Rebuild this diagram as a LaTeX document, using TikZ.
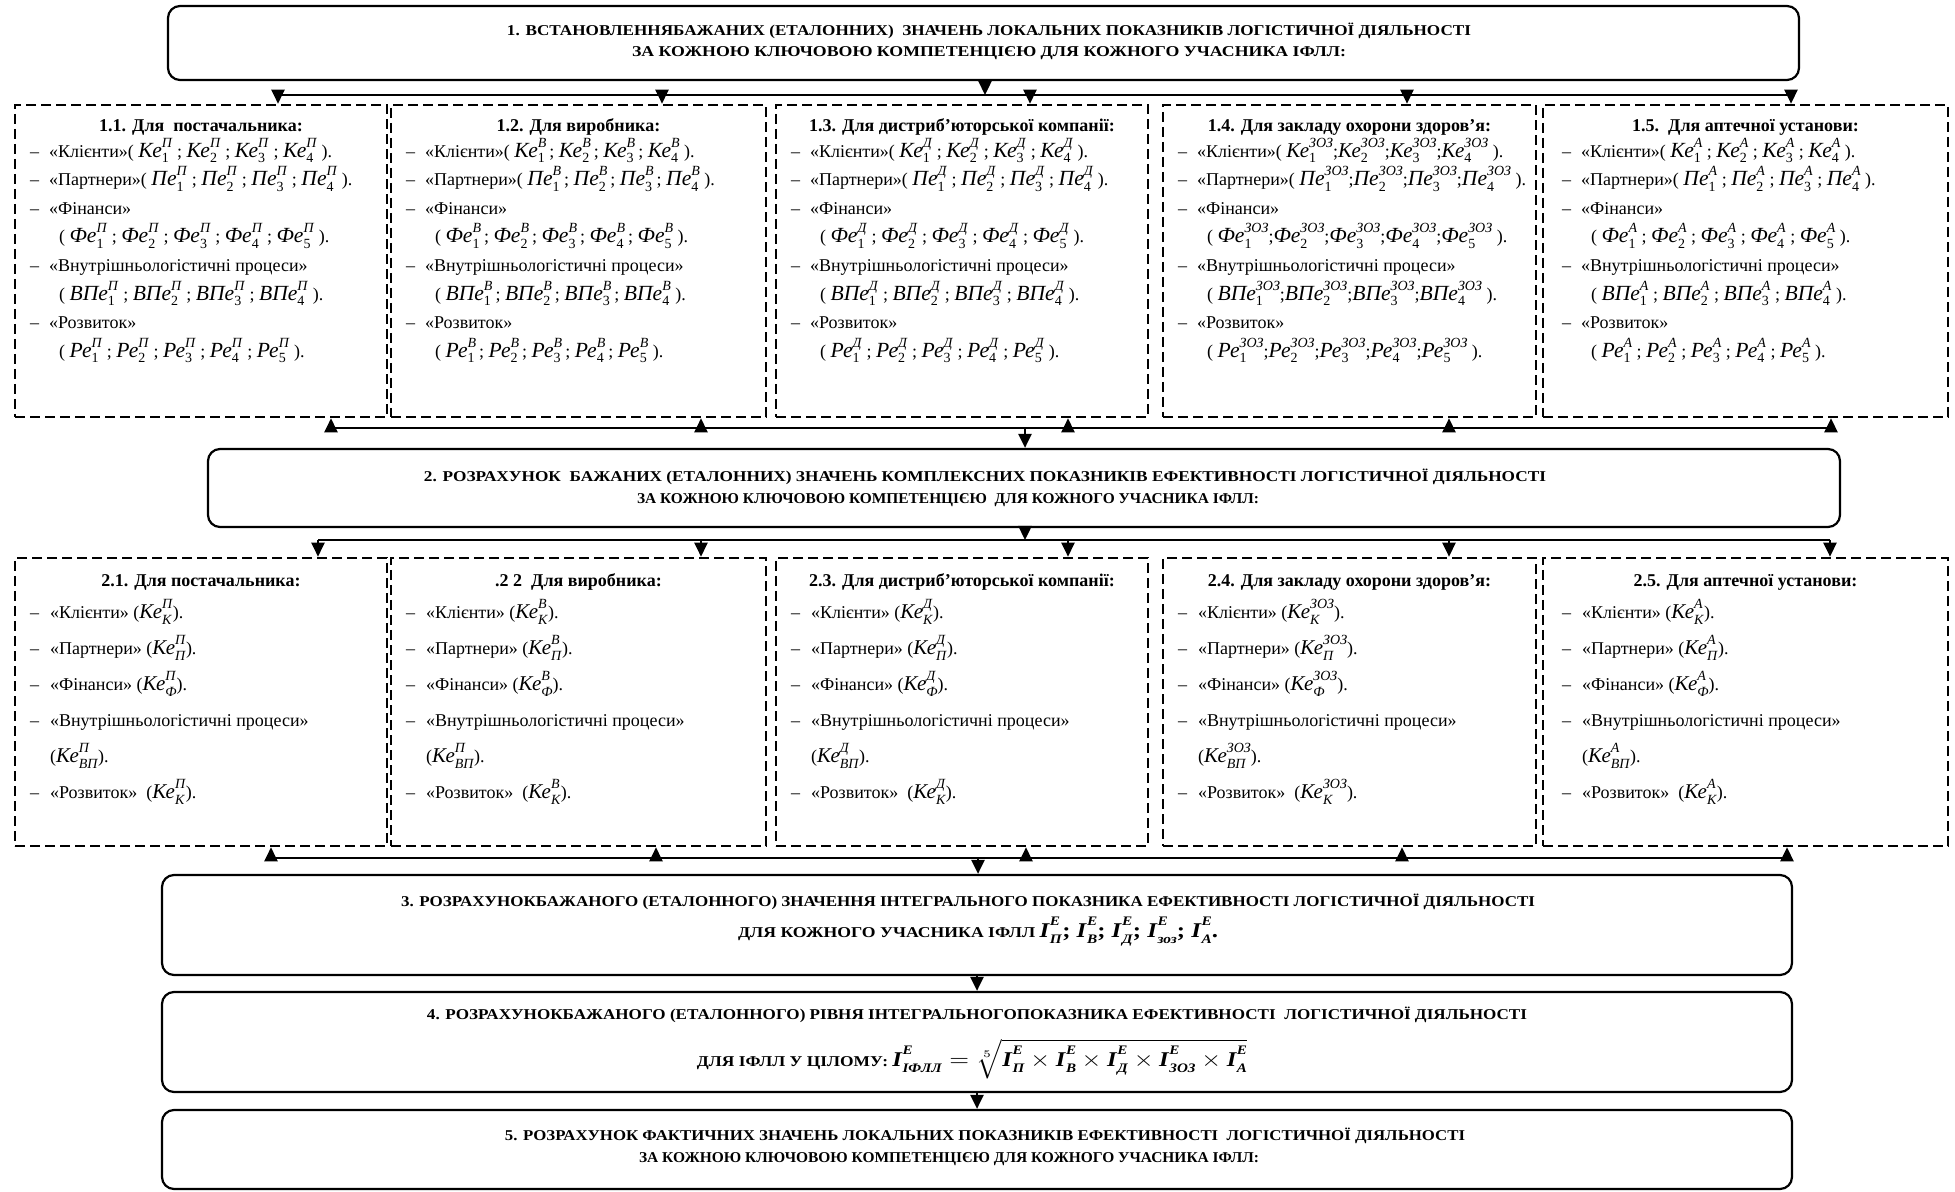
\documentclass[tikz,border=0pt]{standalone}
\usepackage{amsmath}
\usepackage{graphicx}
\usepackage{fontspec}
\setmainfont{Liberation Serif}
\usetikzlibrary{arrows.meta,fit}

\newdimen\scrw
\newbox\scrbA
\newbox\scrbB
% text-mode stacked scripts: #1 sup, #2 sub, #3 size, #4 raise, #5 lower
\newcommand\scr[5]{\setbox\scrbA\hbox{\fontsize{#3}{#3}\selectfont #1}\setbox\scrbB\hbox{\fontsize{#3}{#3}\selectfont #2}%
 \ifdim\wd\scrbA>\wd\scrbB \scrw=\wd\scrbA \else \scrw=\wd\scrbB \fi
 \rlap{\raisebox{#4}{\box\scrbA}}\rlap{\raisebox{-#5}{\box\scrbB}}\hspace*{\scrw}}
\def\ixs{10.8}
\newcommand\ix[3]{{\fontsize{\ixs}{12}\selectfont\textit{#1}\scr{\textit{#3}}{#2}{7}{5pt}{2.8pt}}}
\newcommand\jx[2]{{\fontsize{10.5}{12}\selectfont\textit{Ке}\scr{\textit{#2}}{\textit{#1}}{7}{5pt}{3pt}}}
\newcommand\Ib[1]{\textbf{\textit{I}}\scr{\textit{E}}{\textit{#1}}{6.5}{5.8pt}{3.4pt}}
\newcommand\dsh{\makebox[9.5pt][l]{–}}
\newcommand\ind{\hspace*{14.5pt}}
\newcommand\dshB{\makebox[10pt][l]{–}}
\newcommand\indB{\hspace*{10pt}}
\newcommand\hl[2]{\resizebox{#1}{\height}{#2}}

\newcommand\rowAbody[2]{\rule{0pt}{10pt}\dsh«Клієнти»( \ix{Ке}{1}{#1}#2\ix{Ке}{2}{#1}#2\ix{Ке}{3}{#1}#2\ix{Ке}{4}{#1} ).\\
\dsh«Партнери»( \ix{Пе}{1}{#1}#2\ix{Пе}{2}{#1}#2\ix{Пе}{3}{#1}#2\ix{Пе}{4}{#1} ).\\
\dsh«Фінанси»\\
\ind( \ix{Фе}{1}{#1}#2\ix{Фе}{2}{#1}#2\ix{Фе}{3}{#1}#2\ix{Фе}{4}{#1}#2\ix{Фе}{5}{#1} ).\\
\dsh«Внутрішньологістичні процеси»\\
\ind( \ix{ВПе}{1}{#1}#2\ix{ВПе}{2}{#1}#2\ix{ВПе}{3}{#1}#2\ix{ВПе}{4}{#1} ).\\
\dsh«Розвиток»\\
\ind( \ix{Ре}{1}{#1}#2\ix{Ре}{2}{#1}#2\ix{Ре}{3}{#1}#2\ix{Ре}{4}{#1}#2\ix{Ре}{5}{#1} ).}

\newcommand\rowBbody[2]{\rule{0pt}{10pt}\dshB«Клієнти» (\jx{К}{#1}).\\
\dshB«Партнери» (\jx{П}{#1}).\\
\dshB«Фінанси» (\jx{Ф}{#1}).\\
\dshB«Внутрішньологістичні процеси»\\
\indB(\jx{ВП}{#2}).\\
\dshB«Розвиток»\ \ (\jx{К}{#1}).}

\begin{document}
\begin{tikzpicture}[x=0.5pt,y=-0.5pt,
  dbox/.style={draw, line width=1.3pt, dash pattern=on 5pt off 2.5pt, inner sep=0pt},
  rbox/.style={draw, line width=1.1pt, rounded corners=6pt, inner sep=0pt},
  bus/.style={line width=1.2pt},
  arr/.style={line width=1.2pt, -{Triangle[length=7pt,width=6.5pt]}},
  hd/.style={inner sep=0pt, anchor=base, font=\fontsize{7.5}{9}\selectfont\bfseries},
  ttl/.style={inner sep=0pt, anchor=base, font=\fontsize{9}{10}\selectfont\bfseries},
  bdA/.style={inner sep=0pt, anchor=north west, align=left, font={\fontsize{9}{14.3}\selectfont\lineskiplimit=-30pt\lineskip=0pt}},
  bdB/.style={inner sep=0pt, anchor=north west, align=left, font={\fontsize{9}{18}\selectfont\lineskiplimit=-30pt\lineskip=0pt}}]
\useasboundingbox (0,0) rectangle (1955,1192);
\fill[white] (0,0) rectangle (1955,1192);

% ---------- block 1
\node[rbox, fit={(168,6) (1799,80)}] (T1) {};
\node[hd] (h1a) at (989,36) {\hl{482pt}{1. ВСТАНОВЛЕННЯБАЖАНИХ (ЕТАЛОННИХ)\ \ ЗНАЧЕНЬ ЛОКАЛЬНИХ ПОКАЗНИКІВ ЛОГІСТИЧНОЇ ДІЯЛЬНОСТІ}};
\node[hd] (h1b) at (989,57) {\hl{357pt}{ЗА КОЖНОЮ КЛЮЧОВОЮ КОМПЕТЕНЦІЄЮ ДЛЯ КОЖНОГО УЧАСНИКА ІФЛЛ:}};

% ---------- row 1 boxes
\node[dbox, fit={(15,105) (387,417)}] (b11) {};
\node[dbox, fit={(391,105) (766,417)}] (b12) {};
\node[dbox, fit={(776,105) (1148,417)}] (b13) {};
\node[dbox, fit={(1163,105) (1536,417)}] (b14) {};
\node[dbox, fit={(1543,105) (1948,417)}] (b15) {};

\node[ttl] (b11h) at ([yshift=-14pt]b11.north) {1.1. Для\ \ постачальника:};
\node[ttl] (b12h) at ([yshift=-14pt]b12.north) {1.2. Для виробника:};
\node[ttl] (b13h) at ([yshift=-14pt]b13.north) {1.3. Для дистриб'юторської компанії:};
\node[ttl] (b14h) at ([yshift=-14pt]b14.north) {1.4. Для закладу охорони здоров'я:};
\node[ttl] (b15h) at ([yshift=-14pt]b15.north) {1.5.\ \ Для аптечної установи:};

\node[bdA] (b11t) at ([xshift=8pt,yshift=-16.5pt]b11.north west) {\rowAbody{П}{\ ;\ }};
\node[bdA] (b12t) at ([xshift=8pt,yshift=-16.5pt]b12.north west) {\rowAbody{В}{\,;\ }};
\node[bdA] (b13t) at ([xshift=8pt,yshift=-16.5pt]b13.north west) {\rowAbody{Д}{\ ;\ }};
\node[bdA] (b14t) at ([xshift=8pt,yshift=-16.5pt]b14.north west) {\def\ixs{10.5}\rowAbody{ЗОЗ}{;}};
\node[bdA] (b15t) at ([xshift=10pt,yshift=-16.5pt]b15.north west) {\rowAbody{А}{\ ;\ }};

% ---------- block 2
\node[rbox, fit={(208,449) (1840,527)}] (B2) {};
\node[hd] (h2a) at (985,482) {\hl{561pt}{2. РОЗРАХУНОК\ \ БАЖАНИХ (ЕТАЛОННИХ) ЗНАЧЕНЬ КОМПЛЕКСНИХ ПОКАЗНИКІВ ЕФЕКТИВНОСТІ ЛОГІСТИЧНОЇ ДІЯЛЬНОСТІ}};
\node[hd] (h2b) at (948,503) {\hl{311pt}{ЗА КОЖНОЮ КЛЮЧОВОЮ КОМПЕТЕНЦІЄЮ\ \ ДЛЯ КОЖНОГО УЧАСНИКА ІФЛЛ:}};

% ---------- row 2 boxes
\node[dbox, fit={(15,558) (387,846)}] (b21) {};
\node[dbox, fit={(391,558) (766,846)}] (b22) {};
\node[dbox, fit={(776,558) (1148,846)}] (b23) {};
\node[dbox, fit={(1163,558) (1536,846)}] (b24) {};
\node[dbox, fit={(1543,558) (1948,846)}] (b25) {};

\node[ttl] (b21h) at ([yshift=-15pt]b21.north) {2.1. Для постачальника:};
\node[ttl] (b22h) at ([yshift=-15pt]b22.north) {.2 2\ \ Для виробника:};
\node[ttl] (b23h) at ([yshift=-15pt]b23.north) {2.3. Для дистриб’юторської компанії:};
\node[ttl] (b24h) at ([yshift=-15pt]b24.north) {2.4. Для закладу охорони здоров’я:};
\node[ttl] (b25h) at ([yshift=-15pt]b25.north) {2.5. Для аптечної установи:};

\node[bdB] (b21t) at ([xshift=8pt,yshift=-20.5pt]b21.north west) {\rowBbody{П}{П}};
\node[bdB] (b22t) at ([xshift=8pt,yshift=-20.5pt]b22.north west) {\rowBbody{В}{П}};
\node[bdB] (b23t) at ([xshift=8pt,yshift=-20.5pt]b23.north west) {\rowBbody{Д}{Д}};
\node[bdB] (b24t) at ([xshift=8pt,yshift=-20.5pt]b24.north west) {\rowBbody{ЗОЗ}{ЗОЗ}};
\node[bdB] (b25t) at ([xshift=10pt,yshift=-20.5pt]b25.north west) {\rowBbody{А}{А}};

% ---------- blocks 3-5
\node[rbox, fit={(162,875) (1792,975)}] (B3) {};
\node[hd] (h3a) at (968,906) {\hl{567pt}{3. РОЗРАХУНОКБАЖАНОГО (ЕТАЛОННОГО) ЗНАЧЕННЯ ІНТЕГРАЛЬНОГО ПОКАЗНИКА ЕФЕКТИВНОСТІ ЛОГІСТИЧНОЇ ДІЯЛЬНОСТІ}};
\node[hd] (h3b) at (978,937) {\hl{240pt}{ДЛЯ КОЖНОГО УЧАСНИКА ІФЛЛ {\fontsize{10.5}{11}\selectfont\Ib{П}; \Ib{В}; \Ib{Д}; \Ib{зоз}; \Ib{А}.}}};

\node[rbox, fit={(162,992) (1792,1092)}] (B4) {};
\node[hd] (h4a) at (977,1019) {\hl{550pt}{4. РОЗРАХУНОКБАЖАНОГО (ЕТАЛОННОГО) РІВНЯ ІНТЕГРАЛЬНОГОПОКАЗНИКА ЕФЕКТИВНОСТІ\ \ ЛОГІСТИЧНОЇ ДІЯЛЬНОСТІ}};
\node[hd] (h4b) at (972,1066) {\hl{275pt}{ДЛЯ ІФЛЛ У ЦІЛОМУ: {\fontsize{10.5}{11}\selectfont$\mbox{\Ib{ІФЛЛ}}=\sqrt[5]{\mbox{\Ib{П}}\times\mbox{\Ib{В}}\times\mbox{\Ib{Д}}\times\mbox{\Ib{ЗОЗ}}\times\mbox{\Ib{А}}}$}}};

\node[rbox, fit={(162,1110) (1792,1189)}] (B5) {};
\node[hd] (h5a) at (985,1140) {\hl{480pt}{5. РОЗРАХУНОК ФАКТИЧНИХ ЗНАЧЕНЬ ЛОКАЛЬНИХ ПОКАЗНИКІВ ЕФЕКТИВНОСТІ\ \ ЛОГІСТИЧНОЇ ДІЯЛЬНОСТІ}};
\node[hd] (h5b) at (949,1162) {\hl{310pt}{ЗА КОЖНОЮ КЛЮЧОВОЮ КОМПЕТЕНЦІЄЮ ДЛЯ КОЖНОГО УЧАСНИКА ІФЛЛ:}};

% ---------- bus coordinates
\coordinate (tc) at (985,95);
\coordinate (t1) at (278,95);  \coordinate (t2) at (662,95);  \coordinate (t3) at (1030,95);
\coordinate (t4) at (1407,95); \coordinate (t5) at (1791,95);
\coordinate (uc) at (1025,428);
\coordinate (u1) at (331,428); \coordinate (u2) at (701,428); \coordinate (u3) at (1068,428);
\coordinate (u4) at (1449,428); \coordinate (u5) at (1831,428);
\coordinate (vc) at (1025,540);
\coordinate (v1) at (318,540); \coordinate (v2) at (701,540); \coordinate (v3) at (1068,540);
\coordinate (v4) at (1449,540); \coordinate (v5) at (1830,540);
\coordinate (wc) at (978,858);
\coordinate (w1) at (271,858); \coordinate (w2) at (656,858); \coordinate (w3) at (1026,858);
\coordinate (w4) at (1402,858); \coordinate (w5) at (1787,858);
\coordinate (xc) at (977,1000);

% ---------- connectors
\draw[arr] (tc |- T1.south) -- (tc);
\draw[bus] (t1) -- (t5);
\foreach \i in {1,...,5} {\draw[arr] (t\i) -- (t\i |- b1\i.north);}

\draw[bus] (u1) -- (u5);
\foreach \i in {1,...,5} {\draw[arr] (u\i) -- (u\i |- b1\i.south);}
\draw[arr] (uc) -- (uc |- B2.north);

\draw[arr] (vc |- B2.south) -- (vc);
\draw[bus] (v1) -- (v5);
\foreach \i in {1,...,5} {\draw[arr] (v\i) -- (v\i |- b2\i.north);}

\draw[bus] (w1) -- (w5);
\foreach \i in {1,...,5} {\draw[arr] (w\i) -- (w\i |- b2\i.south);}
\draw[arr] (wc) -- (wc |- B3.north);

\draw[arr] (xc |- B3.south) -- (xc |- B4.north);
\draw[arr] (xc |- B4.south) -- (xc |- B5.north);
\end{tikzpicture}
\end{document}
